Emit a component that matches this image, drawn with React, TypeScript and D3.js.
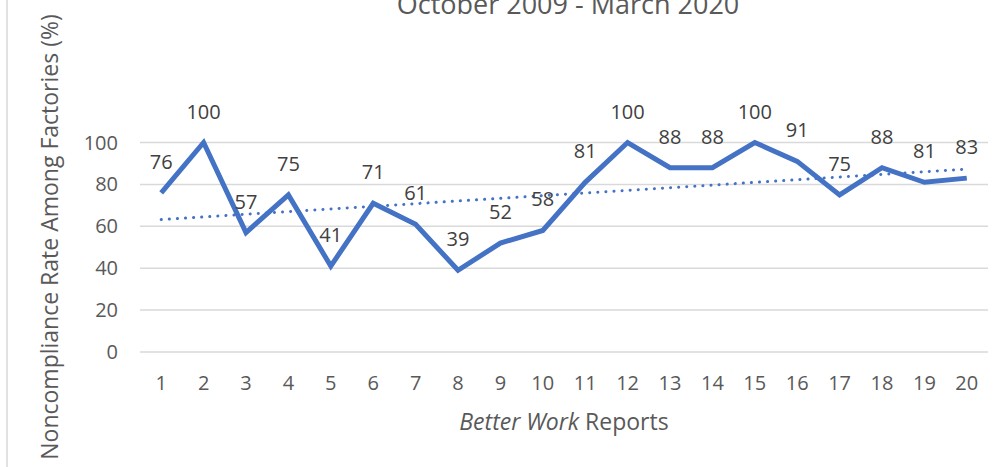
import React from "react";
import * as d3 from "d3";

const reports = ["1","2","3","4","5","6","7","8","9","10","11","12","13","14","15","16","17","18","19","20"];
const rates = [76,100,57,75,41,71,61,39,52,58,81,100,88,88,100,91,75,88,81,83];
const yTicks = [0,20,40,60,80,100];
const titleText = "October 2009 - March 2020";
const yTitle = "Noncompliance Rate Among Factories (%)";

const W = 1004, H = 467;
const FONT = "'Open Sans', sans-serif";

export default function App() {
  const x = d3.scaleBand<string>().domain(reports).range([140, 988]);
  const y = d3.scaleLinear().domain([0, 100]).range([352, 142.5]);
  const cx = (r: string) => (x(r) as number) + x.bandwidth() / 2;

  const line = d3.line<number>().x((_, i) => cx(reports[i])).y(d => y(d));

  // linear trendline (least squares)
  const xs = reports.map((_, i) => i + 1);
  const mx = d3.mean(xs) as number;
  const my = d3.mean(rates) as number;
  const sxy = d3.sum(xs.map((v, i) => (v - mx) * (rates[i] - my)));
  const sxx = d3.sum(xs.map(v => (v - mx) ** 2));
  const slope = sxy / sxx;
  const icpt = my - slope * mx;
  const t0 = icpt + slope * 1, t1 = icpt + slope * 20;

  return (
    <svg width={W} height={H} style={{ position: "absolute", left: 0, top: 0, background: "#fff" }}>
      <line x1={7} x2={7} y1={0} y2={H} stroke="#d9d9d9" strokeWidth={1.5} />
      <text x={568} y={14} textAnchor="middle" fontFamily={FONT} fontSize={27} fill="#595959">{titleText}</text>
      {yTicks.map(t => (
        <g key={t}>
          <line x1={140} x2={988} y1={y(t)} y2={y(t)} stroke="#d9d9d9" strokeWidth={1.5} />
          <text x={118} y={y(t)} dy="0.35em" textAnchor="end" fontFamily={FONT} fontSize={20} fill="#595959">{t}</text>
        </g>
      ))}
      {reports.map(r => (
        <text key={r} x={cx(r)} y={390} textAnchor="middle" fontFamily={FONT} fontSize={20} fill="#595959">{r}</text>
      ))}
      <text x={564} y={430} textAnchor="middle" fontFamily={FONT} fontSize={23} fill="#595959">
        <tspan fontStyle="italic">Better Work</tspan> Reports
      </text>
      <text transform={`translate(58,237) rotate(-90)`} textAnchor="middle" fontFamily={FONT} fontSize={23} fill="#595959">{yTitle}</text>
      <line x1={cx(reports[0])} x2={cx(reports[19])} y1={y(t0)} y2={y(t1)} stroke="#4472C4" strokeWidth={3} strokeDasharray="0.1 8" strokeLinecap="round" />
      <path d={line(rates) || ""} fill="none" stroke="#4472C4" strokeWidth={5} strokeLinejoin="miter" />
      {rates.map((v, i) => (
        <text key={i} x={cx(reports[i])} y={y(v) - 31} dy="0.35em" textAnchor="middle" fontFamily={FONT} fontSize={20} fill="#404040">{v}</text>
      ))}
    </svg>
  );
}
